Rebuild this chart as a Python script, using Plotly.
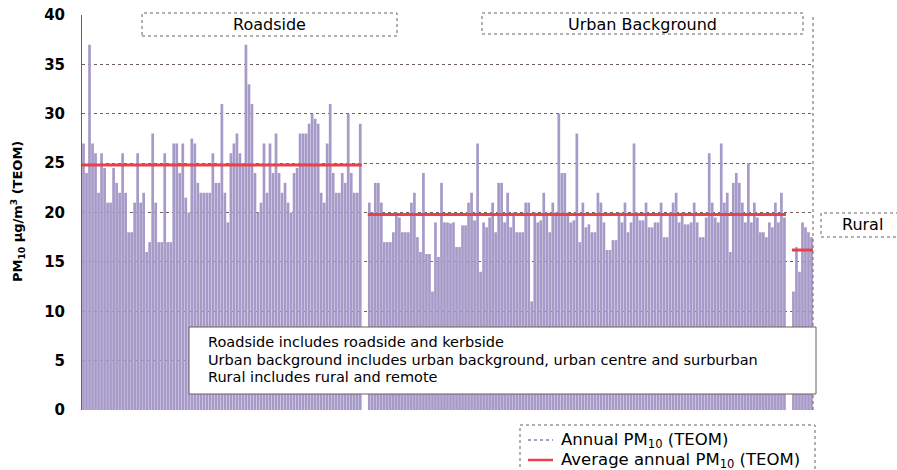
import plotly.graph_objects as go

# Annual mean PM10 (TEOM) per monitoring site, ug/m3
roadside = [27, 24, 37, 27, 26, 22, 26, 24.5, 21, 21, 24.5, 23, 22, 26, 22, 18, 18, 21, 26, 21,
            22, 16, 17, 28, 21, 17, 17, 26, 17, 17, 27, 27, 24, 27, 21.5, 20, 27.5, 27, 23, 22,
            22, 22, 22, 26, 23, 23, 31, 22, 19, 26, 27, 28, 26, 25, 37, 33, 31, 24, 20, 21,
            27, 22, 27, 24, 28, 24, 22, 23, 21, 20, 24, 24.5, 28, 28, 28, 29, 30, 29.5, 29, 22,
            21, 27, 31, 24, 22, 22, 24, 23, 30, 24, 22, 22, 29]
urban = [21, 20, 23, 23, 21, 17, 17, 17, 18, 20, 19.5, 18, 18, 18, 21, 22, 17.5, 16, 24, 15.8,
         15.8, 12, 19, 15.5, 23, 19, 19, 18.9, 19, 16.5, 16.5, 18.7, 18.7, 21, 22, 19.2, 27, 14, 19, 18.5,
         19.5, 21, 18, 23, 23, 19, 22, 18.5, 20, 18, 18, 18, 21, 21, 11, 20, 19, 19.2, 22, 20,
         18, 21, 20, 30, 24, 24, 20, 19, 19.2, 28, 17, 21, 18.5, 18.8, 18, 18, 22, 21, 19, 16.2,
         16.2, 17.2, 17.2, 20, 19, 21, 18, 19, 27, 20, 19.2, 19.2, 21, 18.5, 18.5, 19, 19, 21, 17.5, 17.5,
         20, 21, 22, 19, 20, 18.8, 18.8, 19, 21, 19, 17.5, 17.5, 19.5, 26, 21, 19.5, 19, 27, 21, 22,
         16, 23, 24, 23, 21, 19, 25, 19, 21, 19.5, 18, 18, 17.5, 19, 18.5, 21, 19, 22, 19.5]
rural = [12, 16.5, 14, 19, 18.5, 18, 17.5]

# Group averages
groups = ["Roadside", "Urban Background", "Rural"]
group_values = [roadside, urban, rural]
group_means = [24.8, 19.8, 16.2]

y_ticks = [0, 5, 10, 15, 20, 25, 30, 35, 40]

note_lines = [
    "Roadside includes roadside and kerbside",
    "Urban background includes urban background, urban centre and surburban",
    "Rural includes rural and remote",
]
legend_names = ["Annual PM<sub>10</sub> (TEOM)", "Average annual PM<sub>10</sub> (TEOM)"]

BAR = "#a69ac8"
RED = "#e8414c"
GRID = "#6e5e5e"
GAP = 2  # empty slots between site groups

fig = go.Figure()

xs_all, ys_all = [], []
mean_x, mean_y = [], []
start = 0
for vals, m in zip(group_values, group_means):
    xs = list(range(start, start + len(vals)))
    xs_all += xs
    ys_all += vals
    mean_x += [xs[0] - 0.5, xs[-1] + 0.5, None]
    mean_y += [m, m, None]
    start = xs[-1] + 1 + GAP
x_max = start - GAP - 0.5

fig.add_trace(go.Bar(x=xs_all, y=ys_all, marker=dict(color=BAR, line=dict(width=0)),
                     name=legend_names[0], showlegend=False, hoverinfo="y"))
fig.add_trace(go.Scatter(x=mean_x, y=mean_y, mode="lines", name=legend_names[1],
                         line=dict(color=RED, width=3), showlegend=False, hoverinfo="skip"))

W, H = 897, 470
L, R, T, B = 82, 84, 15, 60
pw, ph = W - L - R, H - T - B


def px(x):
    return (x - L) / pw


def py(y):
    return (H - B - y) / ph


box_line = dict(color=GRID, width=1, dash="dot")
font = dict(family="DejaVu Sans", size=16, color="#000000")
note_font = dict(family="DejaVu Sans", size=14.5, color="#000000")
legend_font = dict(family="DejaVu Sans", size=16.5, color="#000000")


def paper_text(text, x, y, f, xanchor="center", **kw):
    return dict(text=text, x=px(x), y=py(y), xref="paper", yref="paper", xanchor=xanchor,
                yanchor="middle", showarrow=False, font=f, **kw)


shapes = [
    # right border of the plot area
    dict(type="line", xref="paper", yref="paper", x0=1, x1=1, y0=0, y1=1, line=box_line),
    # group name boxes
    dict(type="rect", xref="paper", yref="paper", x0=px(142), x1=px(397), y0=py(36), y1=py(13),
         line=box_line, fillcolor="white"),
    dict(type="rect", xref="paper", yref="paper", x0=px(482), x1=px(803), y0=py(34), y1=py(13),
         line=box_line, fillcolor="white"),
    dict(type="rect", xref="paper", yref="paper", x0=px(821), x1=px(905), y0=py(237), y1=py(213),
         line=box_line, fillcolor="white"),
    # notes box
    dict(type="rect", xref="paper", yref="paper", x0=px(189), x1=px(816), y0=py(394), y1=py(327),
         line=dict(color=GRID, width=1), fillcolor="white"),
    # legend box and keys
    dict(type="rect", xref="paper", yref="paper", x0=px(520), x1=px(815), y0=py(480), y1=py(425),
         line=box_line, fillcolor="white"),
    dict(type="line", xref="paper", yref="paper", x0=px(528), x1=px(553), y0=py(440), y1=py(440),
         line=dict(color=BAR, width=2, dash="dot")),
    dict(type="line", xref="paper", yref="paper", x0=px(528), x1=px(553), y0=py(460), y1=py(460),
         line=dict(color=RED, width=2.5)),
]

annotations = [
    paper_text("Roadside", 269, 24.5, font),
    paper_text("Urban Background", 642, 24, font),
    paper_text("Rural", 862, 225, font),
    paper_text(legend_names[0], 559, 440, legend_font, xanchor="left"),
    paper_text(legend_names[1], 559, 460, legend_font, xanchor="left"),
    paper_text("PM<sub>10</sub> µg/m<sup>3</sup> (TEOM)", 18, 212,
               dict(family="DejaVu Sans", size=13, color="#000000", weight="bold"), textangle=-90),
]
for i, line in enumerate(note_lines):
    annotations.append(paper_text(line, 206, 342 + 17.5 * i, note_font, xanchor="left"))

fig.update_layout(
    width=W, height=H,
    margin=dict(l=L, r=R, t=T, b=B, autoexpand=False),
    paper_bgcolor="white", plot_bgcolor="white",
    bargap=0.1,
    showlegend=False,
    shapes=shapes,
    annotations=annotations,
    xaxis=dict(range=[-0.5, x_max], showticklabels=False, ticks="", showgrid=False,
               zeroline=False, showline=False),
    yaxis=dict(range=[0, 40], tickvals=y_ticks, showgrid=True, gridcolor=GRID, griddash="dot",
               gridwidth=1, zeroline=False, showline=True, linecolor=GRID, ticks="",
               ticklabelstandoff=13,
               tickfont=dict(family="DejaVu Sans", size=15, color="#000000", weight="bold")),
)

fig.write_html("out.html")
